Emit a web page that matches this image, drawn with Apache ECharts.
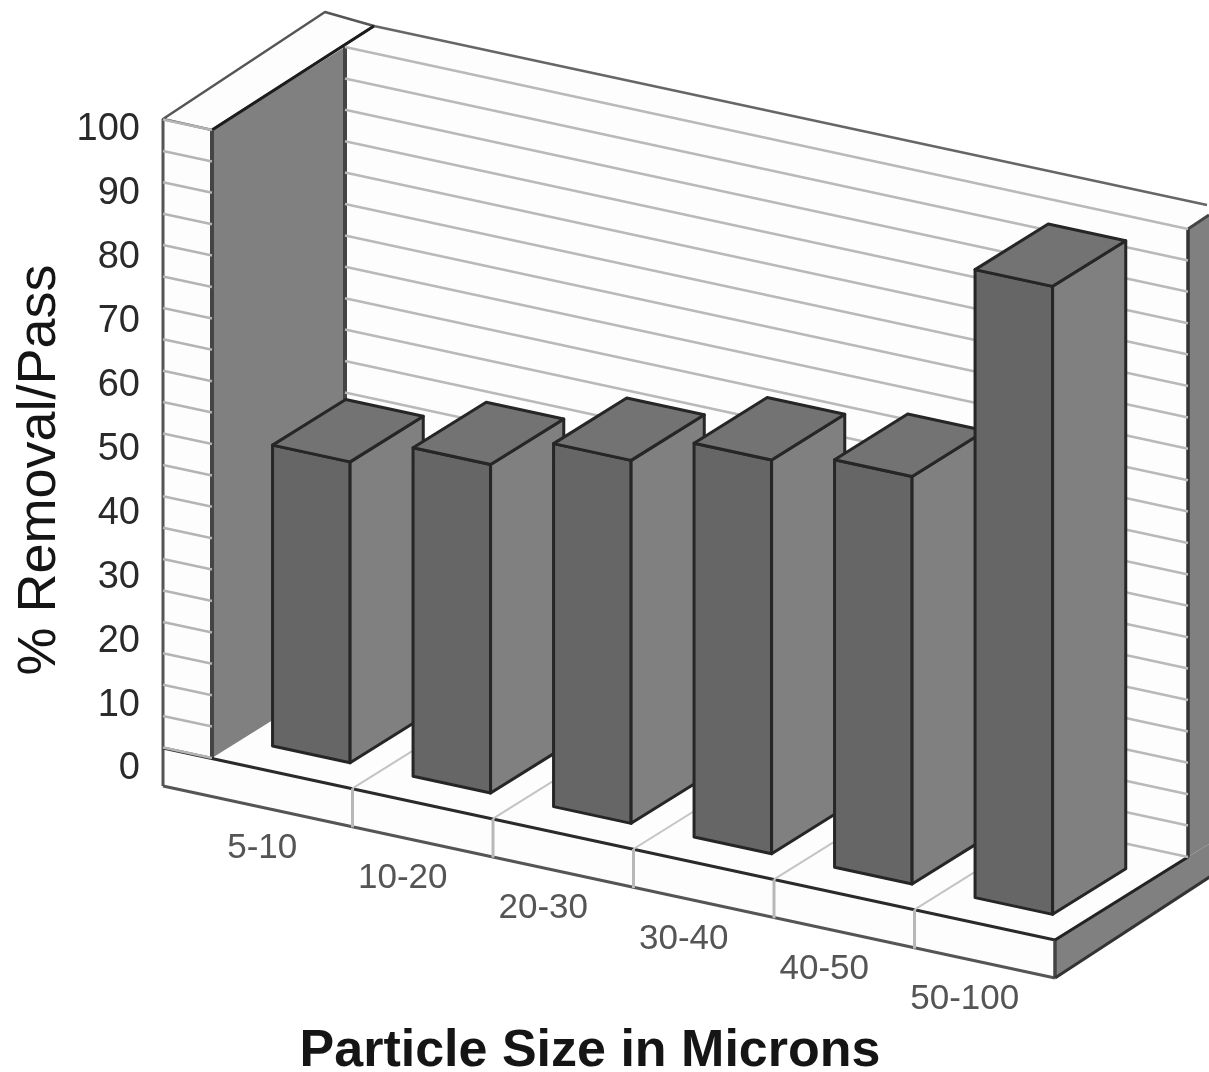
<!DOCTYPE html>
<html><head><meta charset="utf-8">
<style>html,body{margin:0;padding:0;background:#fff;overflow:hidden}#c{width:1209px;height:1072px}</style>
<script src="https://cdn.jsdelivr.net/npm/echarts@6/dist/echarts.min.js"></script>
</head><body><div id="c"></div>
<script>
const categories = ['5-10','10-20','20-30','30-40','40-50','50-100'];
const removal = [47.9, 52.3, 57.8, 62.7, 64.9, 100];
const gridValues = [0,5,10,15,20,25,30,35,40,45,50,55,60,65,70,75,80,85,90,95,100];
const tickPositions = [1,2,3,4,5];
const xTitle = 'Particle Size in Microns';
const yTitle = '% Removal/Pass';

const SKEW = 0.2159, DX = 133, DY = 83;
const FONT = '"Liberation Sans", Arial, sans-serif';
function P(api, i, v, d, ox, oy) {
  const c = api.coord([0, v]), band = api.size([1, 0])[0];
  return [c[0] + (i - 0.5) * band + (d || 0) * DX + (ox || 0), c[1] + i * band * SKEW - (d || 0) * DY + (oy || 0)];
}
function poly(points, fill, stroke, lw) {
  return {type:'polygon', shape:{points}, style:{fill, stroke: stroke || 'none', lineWidth: lw || 0, lineJoin:'round'}};
}
function line(a, b, stroke, lw) {
  return {type:'line', shape:{x1:a[0],y1:a[1],x2:b[0],y2:b[1]}, style:{stroke, lineWidth:lw}};
}
const WALL = '#fdfdfd', DARK = '#808080';

function renderFrame(params, api) {
  const p = (i,v,d,ox,oy) => P(api,i,v,d,ox,oy);
  const a = p(0,100,0), b = p(0,0,0), c = p(0,100,1), e = p(0,0,1), f = p(6,100,1), g = p(6,0,1), h = p(6,0,0);
  const sl = p(0,100,0,-49,-11), sb = p(0,0,0,-49,-10), sf = p(0,0,0,-49,28), hb = p(6,0,0,0,38);
  const topBack = p(0,100,1,-20,-35), topMid = p(0,100,1,29,-21), topEnd = p(6,100,1,19,-24);
  const rt = p(6,100,1,40,-25), rb = p(6,0,1,40,-25), rl = [rb[0], hb[1] - 113];
  return {type:'group', children:[
    poly([c,f,g,e], WALL),
    poly([topMid,topEnd,p(6,100,1,21,-14),f,c], WALL),
    poly([sl,a,b,sb], WALL),
    poly([sl,topBack,topMid,a], WALL, '#555', 2.4),
    line(topMid, topEnd, '#666', 2.4),
    poly([b,e,g,h], WALL),
    poly([sb,h,hb,sf], WALL),
    poly([a,c,e,b], DARK),
    poly([f,rt,rb,g], DARK),
    poly([h,g,rb,rl,hb], DARK),
    line(a,topMid,'#1c1c1c',3),
    line(a,b,'#444',4),
    line(c,e,'#444',4),
    line(f,g,'#333',3.5),
    line(f,p(6,100,1,21,-14),'#444',3),
    line(sl,sf,'#555',3),
    line(sf,hb,'#555',3),
    line(sb,h,'#2a2a2a',3),
    line(h,hb,'#444',3.5),
    line(h,g,'#222',3),
    line(hb,rl,'#333',3)
  ]};
}
function renderGrid(params, api) {
  const v = api.value(0);
  const s0 = P(api,0,v,0,-49,-10.5), s1 = P(api,0,v,0);
  const b0 = P(api,0,v,1), b1 = P(api,6,v,1);
  return {type:'group', children:[line(s0,s1,'#b4b4b4',2.6), line(b0,b1,'#b9b9b9',2.6)]};
}
function renderTick(params, api) {
  const i = api.value(0);
  const f = P(api,i,0,0);
  return {type:'group', children:[
    line(f, P(api,i,0,0,0,39), '#b8b8b8', 3),
    line(f, P(api,i,0,1), '#c4c4c4', 2)
  ]};
}
function renderBar(params, api) {
  const idx = params.dataIndex, v = api.value(1);
  const L = idx + 0.218, R = idx + 0.77, F = 0.225, B = 0.775;
  const a = P(api,L,0,F), b = P(api,R,0,F), c = P(api,R,0,B);
  const at = P(api,L,v,F), bt = P(api,R,v,F), ct = P(api,R,v,B), dt = P(api,L,v,B);
  const st = '#262626', lw = 3;
  return {type:'group', children:[
    poly([a,b,bt,at], '#666666', st, lw),
    poly([b,c,ct,bt], '#808080', st, lw),
    poly([at,bt,ct,dt], '#737373', st, lw)
  ]};
}
function renderXLabel(params, api) {
  const pos = P(api, params.dataIndex + 0.5, 0, 0, -20, 75);
  return {type:'text', style:{text:categories[params.dataIndex], x:pos[0], y:pos[1], align:'center', verticalAlign:'middle',
    font:'35px '+FONT, fill:'#555'}};
}
const custom = (id, z, data, renderItem) => ({type:'custom', id, xAxisIndex:0, yAxisIndex:0, z, data, renderItem, silent:true, clip:false, animation:false, tooltip:{show:false}});

const chart = echarts.init(document.getElementById('c'), null, {renderer:'canvas'});
chart.setOption({
  backgroundColor:'#ffffff',
  animation:false,
  grid:[
    {left:212, top:130, width:843, height:628, outerBoundsMode:'none'},
    {left:146, top:130, width:10, height:639, outerBoundsMode:'none'}
  ],
  xAxis:[
    {type:'category', gridIndex:0, data:categories, show:false},
    {type:'value', gridIndex:1, show:false, min:0, max:1}
  ],
  yAxis:[
    {type:'value', gridIndex:0, min:0, max:100, show:false},
    {type:'value', gridIndex:1, min:0, max:100, interval:10, position:'left',
     axisLine:{show:false}, axisTick:{show:false}, splitLine:{show:false},
     axisLabel:{show:true, margin:6, fontFamily:FONT, fontSize:38, color:'#2a2a2a'}}
  ],
  series:[
    custom('frame', 1, [[0,0]], renderFrame),
    custom('grid', 2, gridValues.map(v=>[v]), renderGrid),
    custom('ticks', 3, tickPositions.map(v=>[v]), renderTick),
    custom('bars', 4, removal.map((v,i)=>[i,v]), renderBar),
    custom('xlabels', 5, categories.map((c,i)=>[i,0]), renderXLabel)
  ],
  graphic:[
    {type:'text', z:10, rotation:Math.PI/2, x:40, y:470, style:{text:yTitle, x:0, y:0, align:'center', verticalAlign:'middle', font:'54px '+FONT, fill:'#151515'}},
    {type:'text', z:10, x:590, y:1052, style:{text:xTitle, x:0, y:0, align:'center', verticalAlign:'middle', font:'bold 52px '+FONT, fill:'#151515'}}
  ]
});
</script></body></html>
